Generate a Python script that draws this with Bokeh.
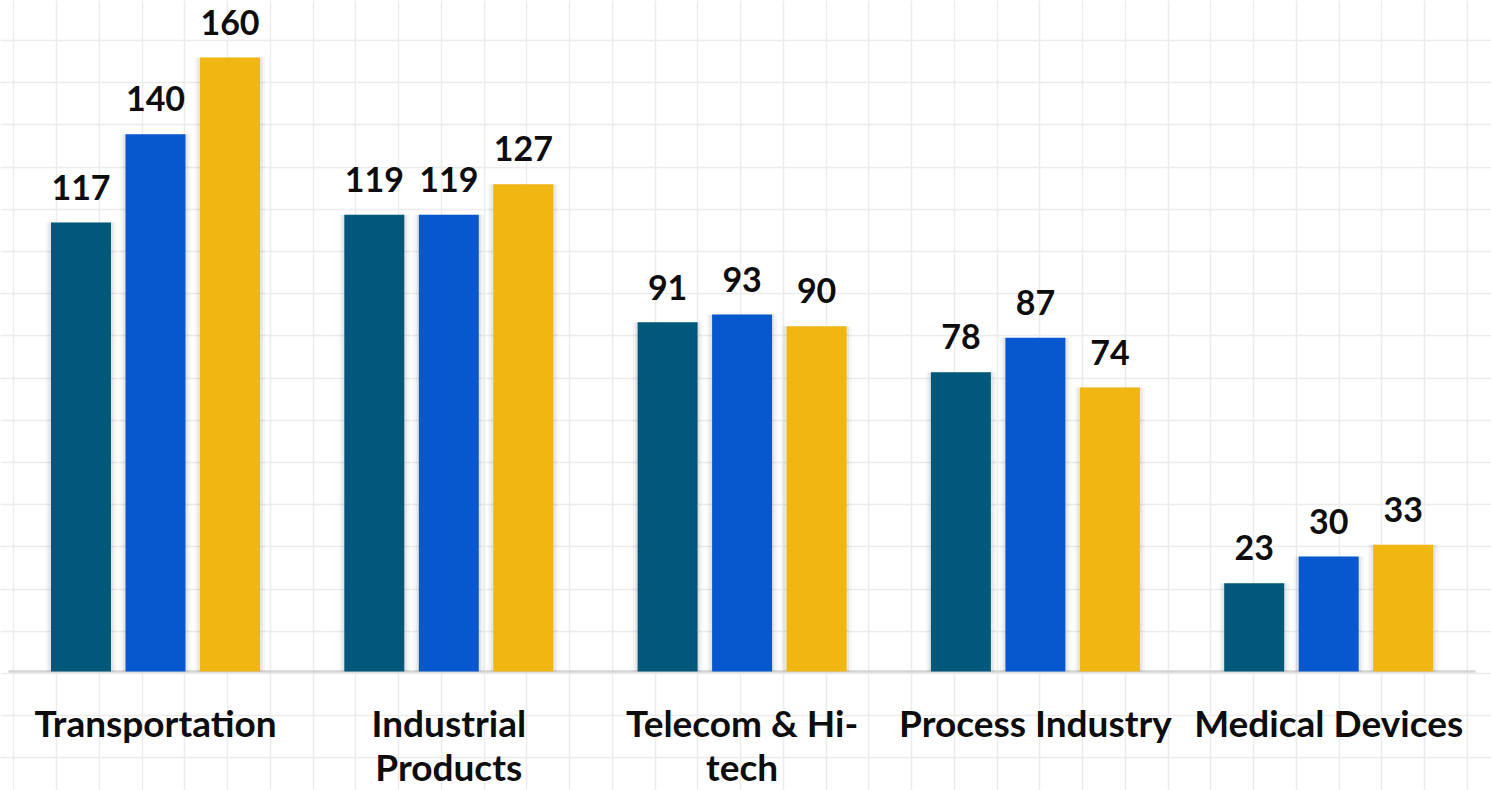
from bokeh.plotting import figure
from bokeh.models import Range1d, ColumnDataSource, Grid, FixedTicker
from bokeh.core.properties import value
from bokeh.embed import file_html
from bokeh.resources import INLINE

categories = ["Transportation", "Industrial\nProducts", "Telecom & Hi-\ntech",
              "Process Industry", "Medical Devices"]
series_1 = [117, 119, 91, 78, 23]
series_2 = [140, 119, 93, 87, 30]
series_3 = [160, 127, 90, 74, 33]
series_colors = ["#02587A", "#0757CF", "#F0B713"]

W, H = 1491, 790
PX_PER_UNIT = 3.8375
GROUP_PX = 293.3
BASE_PX = 671
FIRST_CENTER_PX = 155

x0 = -FIRST_CENTER_PX / GROUP_PX
x_range = Range1d(x0, x0 + W / GROUP_PX)
y_range = Range1d(-(H - BASE_PX) / PX_PER_UNIT, BASE_PX / PX_PER_UNIT)

p = figure(width=W, height=H, x_range=x_range, y_range=y_range,
           output_backend="svg", toolbar_location=None, min_border=0,
           x_axis_location=None, y_axis_location=None,
           outline_line_color=None, background_fill_color="white")
p.grid.visible = False
p.extra_x_ranges = {"px": Range1d(0, W)}
p.extra_y_ranges = {"px": Range1d(H, 0)}

# graph-paper background
xt = [13.3 + 42.75 * i for i in range(35)]
yt = [40 + 42.2 * i for i in range(18)]
p.add_layout(Grid(dimension=0, ticker=FixedTicker(ticks=xt), x_range_name="px", y_range_name="px",
                  grid_line_color="#ececec", grid_line_width=1.5))
p.add_layout(Grid(dimension=1, ticker=FixedTicker(ticks=yt), x_range_name="px", y_range_name="px",
                  grid_line_color="#ececec", grid_line_width=1.5))

# baseline
p.segment(x0=[8], x1=[1475], y0=[0], y1=[0], x_range_name="px",
          line_color="#d4d4d4", line_width=2.5)

idx = list(range(len(categories)))
bar_w = 60 / GROUP_PX
offsets = [-74.5 / GROUP_PX, 0.0, 74.5 / GROUP_PX]

VAL_FS = 34
for vals, col, off in zip([series_1, series_2, series_3], series_colors, offsets):
    src = ColumnDataSource(dict(x=[i + off for i in idx], top=vals, lab=[str(v) for v in vals]))
    # soft shadow
    p.vbar(x="x", top="top", bottom=0, width=bar_w + 10 / GROUP_PX, source=src,
           fill_color="black", fill_alpha=0.04, line_color=None)
    p.vbar(x="x", top="top", bottom=0, width=bar_w + 5 / GROUP_PX, source=src,
           fill_color="black", fill_alpha=0.06, line_color=None)
    p.vbar(x="x", top="top", bottom=0, width=bar_w, source=src,
           fill_color=col, line_color=None)
    p.text(x="x", y="top", text="lab", source=src, text_align="center",
           text_baseline="alphabetic", y_offset=-(22 + 0.39 * VAL_FS), text_font=value("Lato"),
           text_font_style="bold", text_font_size=f"{VAL_FS}px", text_color="#0d0d0d")

CAT_FS = 37
line1 = [c.split("\n")[0] for c in categories]
line2 = [c.split("\n")[1] if "\n" in c else "" for c in categories]
shift = 0.39 * CAT_FS
lsrc = ColumnDataSource(dict(x=idx, l1=line1, l2=line2,
                             y1=[736 - shift] * len(idx), y2=[780 - shift] * len(idx)))
for col, ycol in [("l1", "y1"), ("l2", "y2")]:
    p.text(x="x", y=ycol, text=col, source=lsrc, y_range_name="px",
           text_align="center", text_baseline="alphabetic", text_font=value("Lato"),
           text_font_style="bold", text_font_size=f"{CAT_FS}px", text_color="#0d0d0d")

open("out.html", "w").write(file_html(p, INLINE))
